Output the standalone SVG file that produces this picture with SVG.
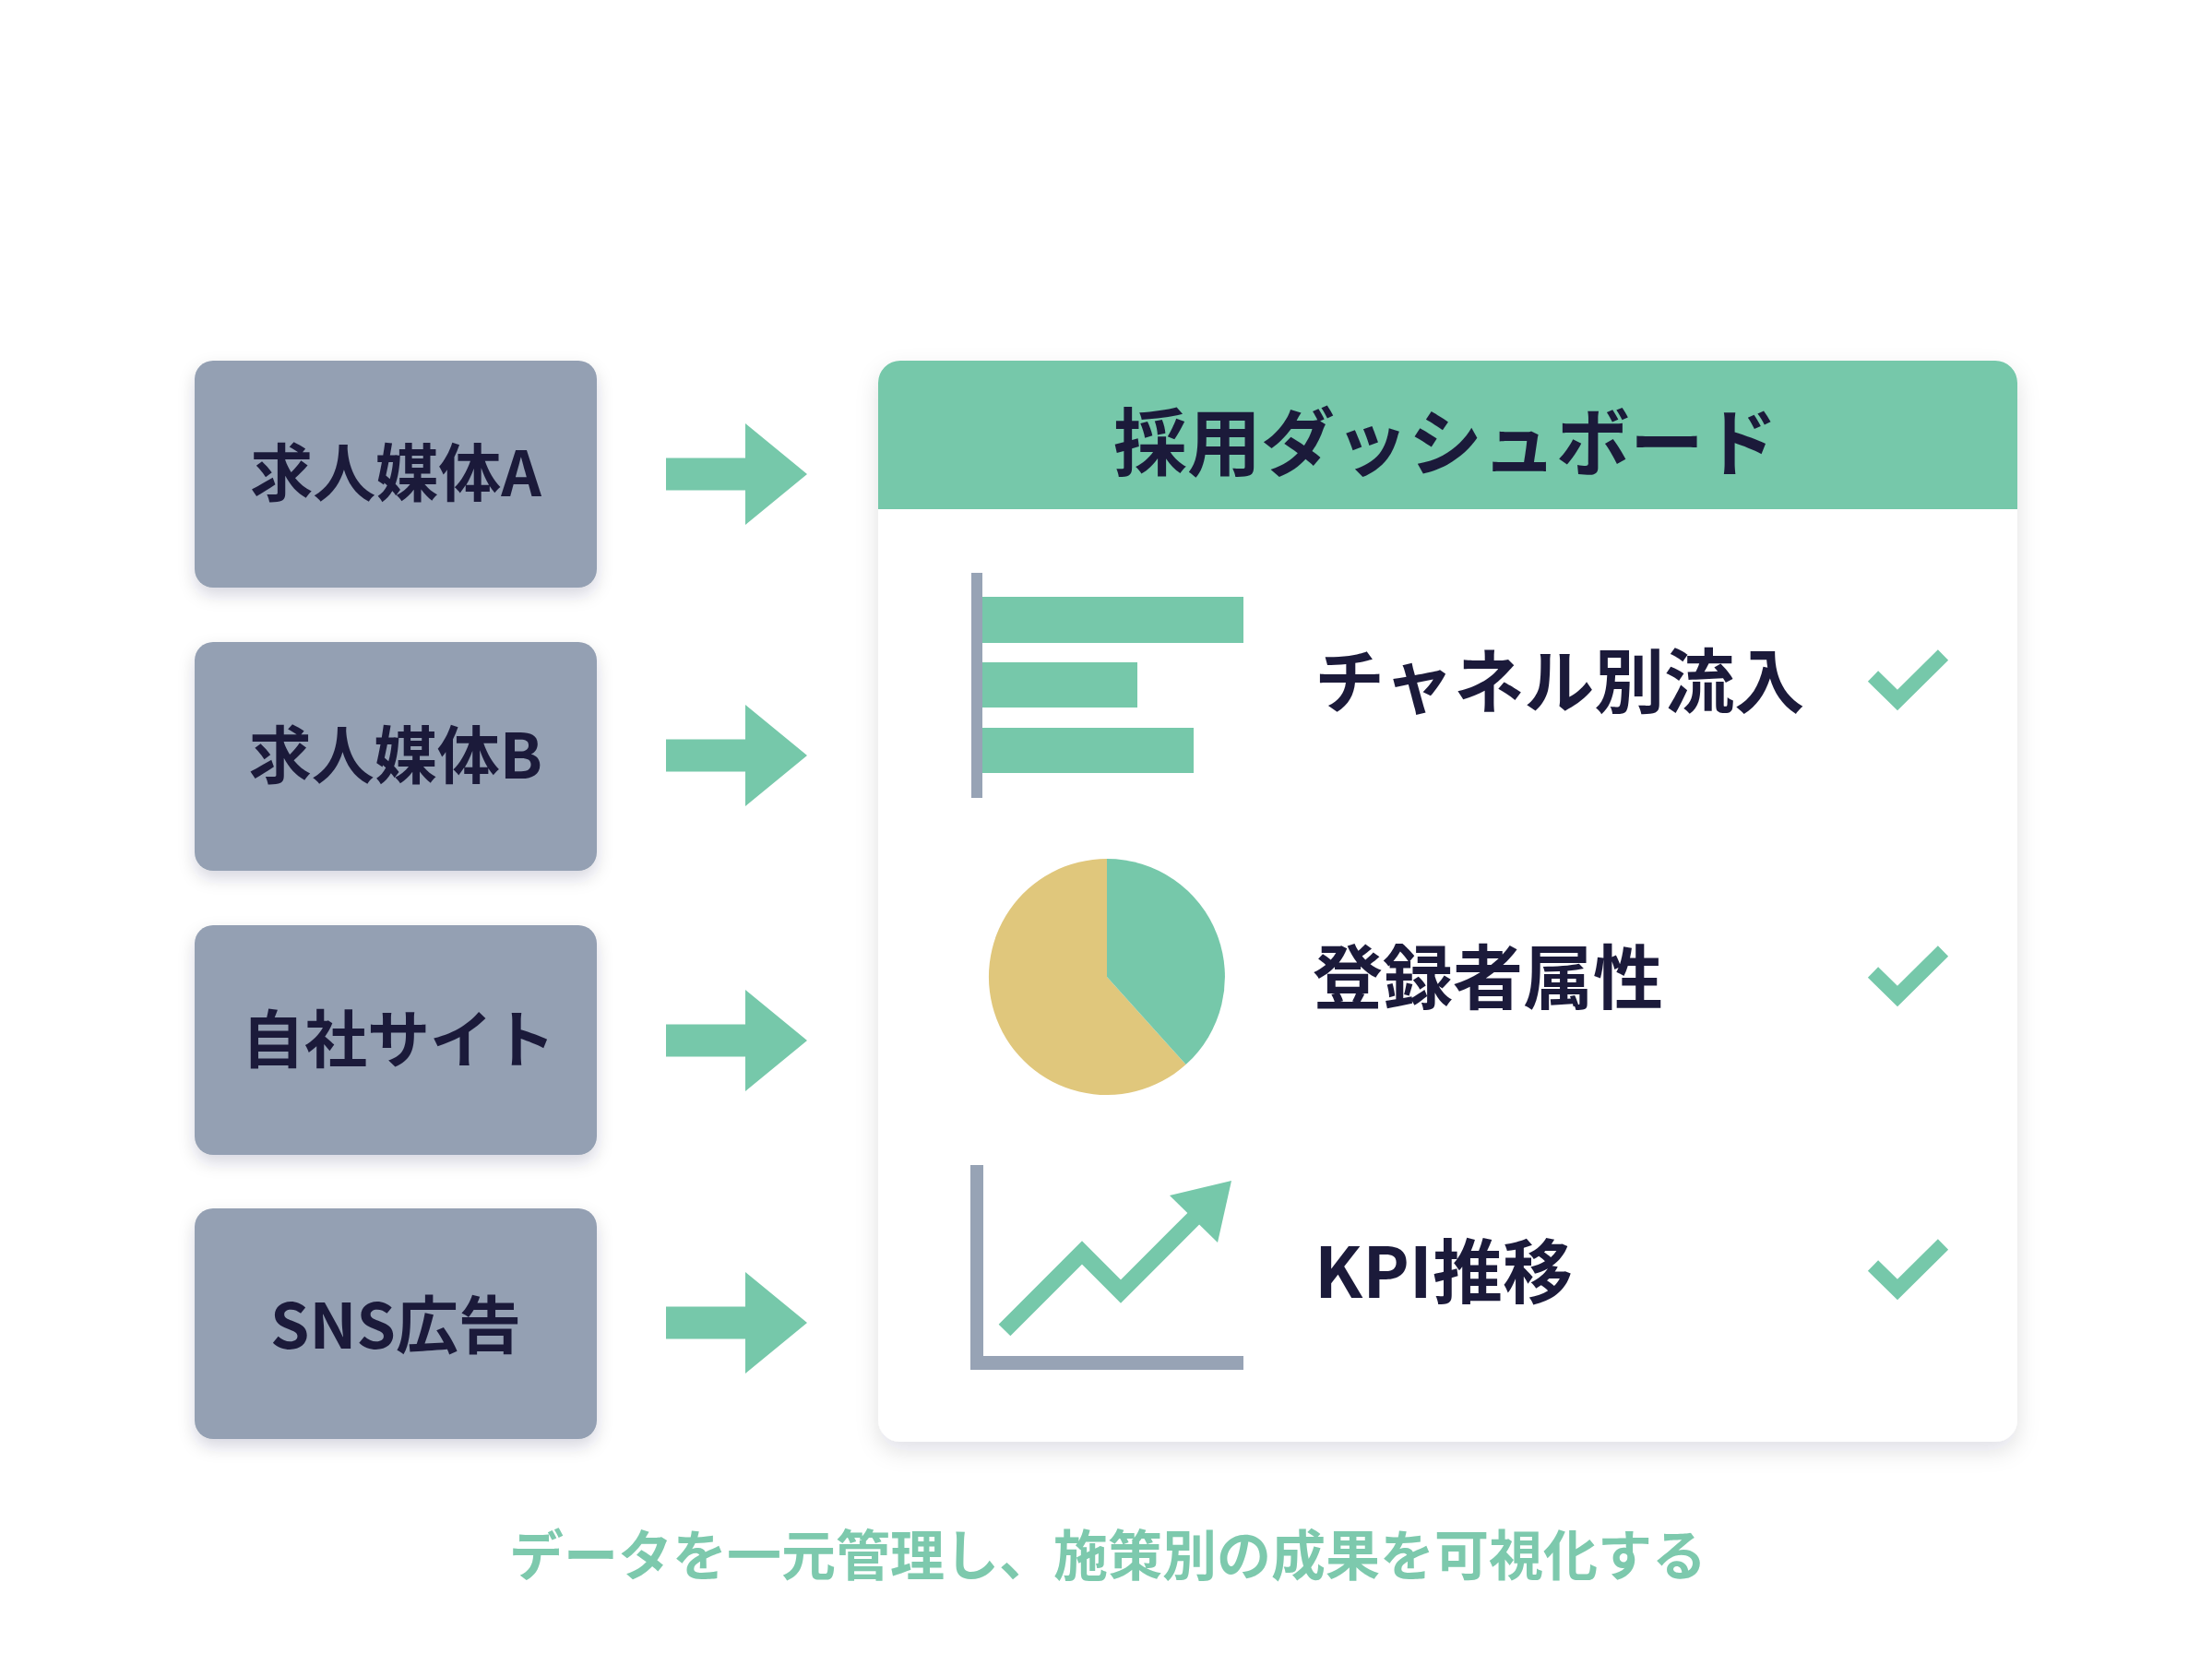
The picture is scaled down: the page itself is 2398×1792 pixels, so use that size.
<svg xmlns="http://www.w3.org/2000/svg" width="2398" height="1792" viewBox="0 0 2398 1792">
  <style>
    .src { fill: #94A0B3; }
    .srcText { font-family: "Noto Sans CJK JP", "Noto Sans", sans-serif; font-weight: 700; font-size: 68px; fill: #1B1A3A; text-anchor: middle; dominant-baseline: central; }
    .label { font-family: "Noto Sans CJK JP", "Noto Sans", sans-serif; font-weight: 700; font-size: 76px; fill: #1B1A3A; dominant-baseline: central; }
    .title { font-family: "Noto Sans CJK JP", "Noto Sans", sans-serif; font-weight: 700; font-size: 80px; fill: #1B1A3A; text-anchor: middle; dominant-baseline: central; }
    .footer { font-family: "Noto Sans CJK JP", "Noto Sans", sans-serif; font-weight: 700; font-size: 59px; fill: #7DC9AD; text-anchor: middle; dominant-baseline: central; }
    .green { fill: #76C8AA; }
    .axis { fill: #97A3B5; }
    .check { fill: none; stroke: #76C8AA; stroke-width: 16; stroke-linejoin: miter; stroke-linecap: butt; }
    .trend { fill: none; stroke: #76C8AA; stroke-width: 18; stroke-linejoin: miter; stroke-linecap: butt; }
  </style>
  <defs>
    <filter id="shadow" x="-20%" y="-20%" width="140%" height="150%">
      <feDropShadow dx="0" dy="8" stdDeviation="9" flood-color="#1B1A3A" flood-opacity="0.16"/>
    </filter>
    <filter id="shadowBig" x="-10%" y="-10%" width="120%" height="120%">
      <feDropShadow dx="0" dy="10" stdDeviation="12" flood-color="#1B1A3A" flood-opacity="0.12"/>
    </filter>
    <path id="arrow" d="M722,-17.5 H808 V-55 L875,0 L808,55 V17.5 H722 Z"/>
    <path id="tick" d="M0,0 L26.5,26 L76,-23"/>
  </defs>

  <rect x="0" y="0" width="2398" height="1792" fill="#FFFFFF"/>

  <g id="src-a">
    <rect class="src" x="211" y="391" width="436" height="246" rx="20" filter="url(#shadow)"/>
    <text class="srcText" x="429" y="508">求人媒体A</text>
  </g>
  <g id="src-b">
    <rect class="src" x="211" y="696" width="436" height="248" rx="20" filter="url(#shadow)"/>
    <text class="srcText" x="429" y="814">求人媒体B</text>
  </g>
  <g id="src-site">
    <rect class="src" x="211" y="1003" width="436" height="249" rx="20" filter="url(#shadow)"/>
    <text class="srcText" x="432" y="1122">自社サイト</text>
  </g>
  <g id="src-sns">
    <rect class="src" x="211" y="1310" width="436" height="250" rx="20" filter="url(#shadow)"/>
    <text class="srcText" x="429" y="1432">SNS広告</text>
  </g>

  <g id="connectors">
    <use href="#arrow" class="green" transform="translate(0,514)"/>
    <use href="#arrow" class="green" transform="translate(0,819)"/>
    <use href="#arrow" class="green" transform="translate(0,1128)"/>
    <use href="#arrow" class="green" transform="translate(0,1434)"/>
  </g>

  <g id="dashboard">
    <rect x="952" y="391" width="1235" height="1172" rx="24" fill="#FFFFFF" filter="url(#shadowBig)"/>
    <path class="green" d="M952,552 V415 A24,24 0 0 1 976,391 H2163 A24,24 0 0 1 2187,415 V552 Z"/>
    <text class="title" x="1567" y="474">採用ダッシュボード</text>
  </g>

  <g id="channel">
    <rect class="axis" x="1053" y="621" width="12" height="244"/>
    <rect class="green" x="1065" y="647" width="283" height="50"/>
    <rect class="green" x="1065" y="718" width="168" height="49"/>
    <rect class="green" x="1065" y="789" width="229" height="49"/>
    <text class="label" x="1425" y="734">チャネル別流入</text>
    <use href="#tick" class="check" transform="translate(2030.5,733)"/>
  </g>

  <g id="attributes">
    <path fill="#E0C77C" d="M1200,1059 L1285.6,1154.1 A128,128 0 1 1 1200,931 Z"/>
    <path class="green" d="M1200,1059 L1200,931 A128,128 0 0 1 1285.6,1154.1 Z"/>
    <text class="label" x="1423" y="1055">登録者属性</text>
    <use href="#tick" class="check" transform="translate(2030.5,1054)"/>
  </g>

  <g id="kpi">
    <rect class="axis" x="1052" y="1263" width="14" height="222"/>
    <rect class="axis" x="1052" y="1470" width="296" height="15"/>
    <polyline class="trend" points="1089,1442 1173,1358 1215,1400 1296,1319"/>
    <polygon class="green" points="1335,1280 1268,1296 1320,1347"/>
    <text class="label" x="1425" y="1374">KPI推移</text>
    <use href="#tick" class="check" transform="translate(2030.5,1372)"/>
  </g>

  <g id="caption">
    <text class="footer" x="1201" y="1682">データを一元管理し、施策別の成果を可視化する</text>
  </g>
</svg>
